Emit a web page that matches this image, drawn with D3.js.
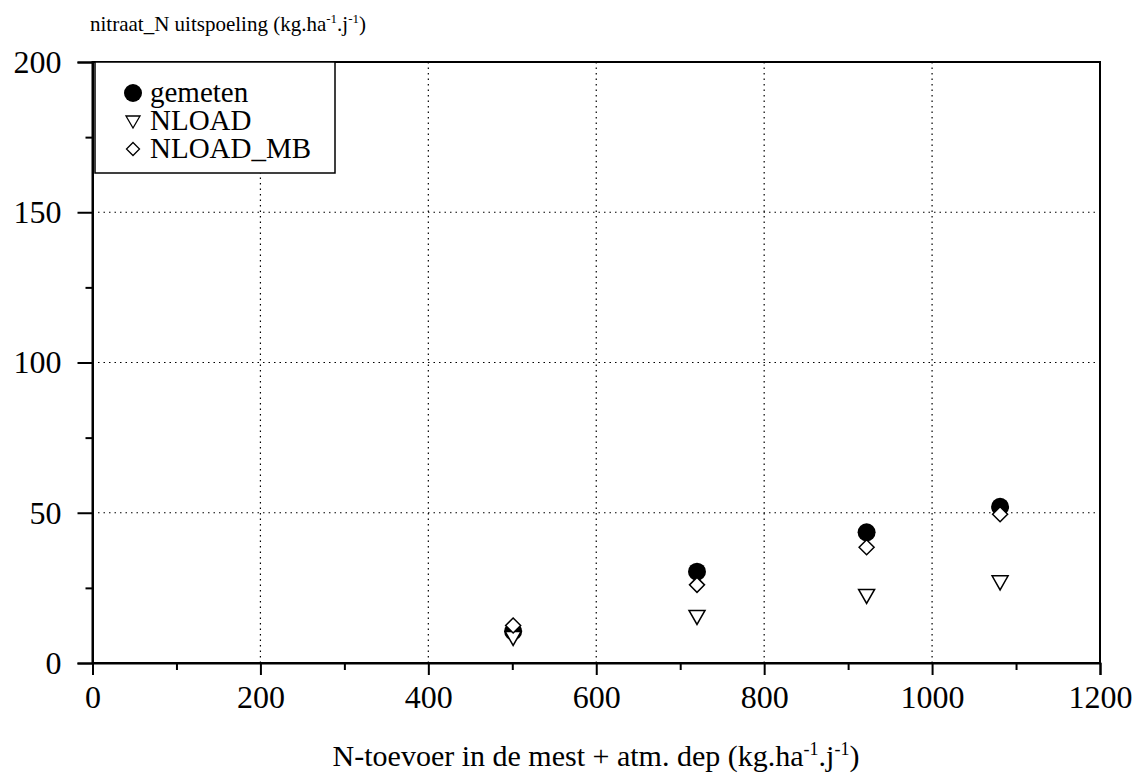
<!DOCTYPE html>
<html>
<head>
<meta charset="utf-8">
<script src="https://cdn.jsdelivr.net/npm/d3@7"></script>
</head>
<body style="margin:0;background:#fff">
<script>
// data
const nInput = [501, 720, 922, 1081];
const gemeten = [10.5, 30.4, 43.5, 52];
const nload = [8.5, 15.5, 22.5, 27];
const nloadMB = [12.5, 26, 38.5, 49.5];

const xTicks = [0, 200, 400, 600, 800, 1000, 1200];
const yTicks = [0, 50, 100, 150, 200];
const legendItems = ["gemeten", "NLOAD", "NLOAD_MB"];

const serif = "Liberation Serif";
const width = 1138, height = 778;
const margin = { top: 62, right: 38, bottom: 115, left: 92.5 };

const svg = d3.select("body").append("svg")
    .attr("width", width)
    .attr("height", height);

const x = d3.scaleLinear().domain([0, 1200]).range([margin.left, width - margin.right]);
const y = d3.scaleLinear().domain([0, 200]).range([height - margin.bottom, margin.top]);

// dotted grid
svg.append("g").selectAll("line")
    .data(xTicks.slice(1, -1))
    .join("line")
    .attr("x1", d => x(d)).attr("x2", d => x(d))
    .attr("y1", y(0)).attr("y2", y(200))
    .attr("stroke", "#000").attr("stroke-width", 1.2)
    .attr("stroke-dasharray", "1.5,4");

svg.append("g").selectAll("line")
    .data(yTicks.slice(1, -1))
    .join("line")
    .attr("x1", x(0)).attr("x2", x(1200))
    .attr("y1", d => y(d)).attr("y2", d => y(d))
    .attr("stroke", "#000").attr("stroke-width", 1.2)
    .attr("stroke-dasharray", "1.5,4");

// frame
svg.append("rect")
    .attr("x", x(0)).attr("y", y(200))
    .attr("width", x(1200) - x(0)).attr("height", y(0) - y(200))
    .attr("fill", "none").attr("stroke", "#000").attr("stroke-width", 2);

// x axis (major ticks with labels, minor ticks in between)
svg.append("g")
    .attr("transform", `translate(0,${y(0)})`)
    .call(d3.axisBottom(x).tickValues(xTicks).tickSize(12).tickPadding(10).tickFormat(d3.format("d")));
svg.append("g")
    .attr("transform", `translate(0,${y(0)})`)
    .call(d3.axisBottom(x).tickValues(d3.range(100, 1200, 200)).tickSize(7).tickFormat(""))
    .call(g => g.select(".domain").remove());

// y axis
svg.append("g")
    .attr("transform", `translate(${x(0)},0)`)
    .call(d3.axisLeft(y).tickValues(yTicks).tickSize(15).tickPadding(16));
svg.append("g")
    .attr("transform", `translate(${x(0)},0)`)
    .call(d3.axisLeft(y).tickValues(d3.range(25, 200, 50)).tickSize(7).tickFormat(""))
    .call(g => g.select(".domain").remove());

svg.selectAll("g").attr("font-family", serif);
svg.selectAll(".domain").attr("stroke", "#000").attr("stroke-width", 2);
svg.selectAll(".tick line").attr("stroke", "#000").attr("stroke-width", 2);
svg.selectAll(".tick text")
    .attr("font-family", serif)
    .attr("font-size", 32)
    .attr("fill", "#000");

// axis titles
const yTitle = svg.append("text")
    .attr("x", 90).attr("y", 31)
    .attr("font-family", serif)
    .attr("font-size", 21);
yTitle.append("tspan").text("nitraat_N uitspoeling (kg.ha");
yTitle.append("tspan").attr("font-size", 13).attr("dy", -8).text("-1");
yTitle.append("tspan").attr("dy", 8).text(".j");
yTitle.append("tspan").attr("font-size", 13).attr("dy", -8).text("-1");
yTitle.append("tspan").attr("dy", 8).text(")");

const xTitle = svg.append("text")
    .attr("x", 596).attr("y", 766)
    .attr("text-anchor", "middle")
    .attr("font-family", serif)
    .attr("font-size", 30);
xTitle.append("tspan").text("N-toevoer in de mest + atm. dep (kg.ha");
xTitle.append("tspan").attr("font-size", 18).attr("dy", -11).text("-1");
xTitle.append("tspan").attr("dy", 11).text(".j");
xTitle.append("tspan").attr("font-size", 18).attr("dy", -11).text("-1");
xTitle.append("tspan").attr("dy", 11).text(")");

// markers
const triangle = "M-8,-6L8,-6L0,8Z";
const diamond = "M0,-7.5L7.5,0L0,7.5L-7.5,0Z";

const pts = svg.append("g");
pts.selectAll("circle.gem")
    .data(nInput)
    .join("circle")
    .attr("class", "gem")
    .attr("cx", d => x(d))
    .attr("cy", (d, i) => y(gemeten[i]))
    .attr("r", 9)
    .attr("fill", "#000");

pts.selectAll("path.nl")
    .data(nInput)
    .join("path")
    .attr("class", "nl")
    .attr("transform", (d, i) => `translate(${x(d)},${y(nload[i])})`)
    .attr("d", triangle)
    .attr("fill", "#fff").attr("stroke", "#000").attr("stroke-width", 1.5);

pts.selectAll("path.mb")
    .data(nInput)
    .join("path")
    .attr("class", "mb")
    .attr("transform", (d, i) => `translate(${x(d)},${y(nloadMB[i])})`)
    .attr("d", diamond)
    .attr("fill", "#fff").attr("stroke", "#000").attr("stroke-width", 1.5);

// legend
const legend = svg.append("g");
legend.append("rect")
    .attr("x", 95).attr("y", 62)
    .attr("width", 240).attr("height", 111)
    .attr("fill", "#fff").attr("stroke", "#000").attr("stroke-width", 1.5);

legendItems.forEach((name, i) => {
    const cy = 93 + i * 28;
    if (i === 0) {
        legend.append("circle").attr("cx", 133).attr("cy", cy).attr("r", 9).attr("fill", "#000");
    } else {
        legend.append("path")
            .attr("transform", `translate(133,${cy})`)
            .attr("d", i === 1 ? "M-7,-5L7,-5L0,7Z" : "M0,-6.5L6.5,0L0,6.5L-6.5,0Z")
            .attr("fill", "#fff").attr("stroke", "#000").attr("stroke-width", 1.3);
    }
    legend.append("text")
        .attr("x", 150).attr("y", cy + 9)
        .attr("font-family", serif)
        .attr("font-size", 29)
        .text(name);
});
</script>
</body>
</html>
